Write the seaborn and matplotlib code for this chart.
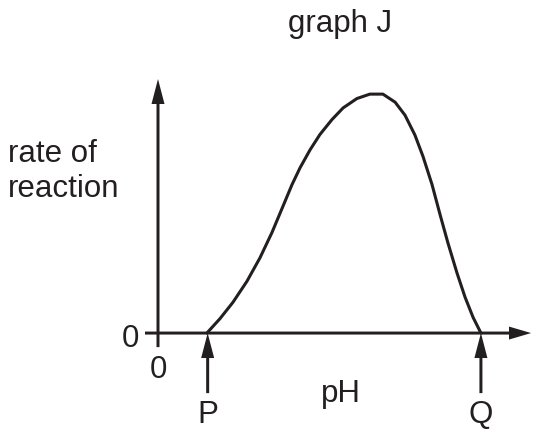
import numpy as np
import pandas as pd
import seaborn as sns
import matplotlib
matplotlib.use("Agg")
import matplotlib.pyplot as plt

# curve (diagram units, origin at the axes corner)
ph = [1.88, 2.38, 2.88, 3.42, 3.92, 4.38, 4.77, 5.15, 5.46, 5.85, 6.23, 6.69, 7.12,
      7.65, 8.15, 8.65, 9.12, 9.50, 9.88, 10.19, 10.54, 10.85, 11.15, 11.50, 11.81,
      12.12, 12.42]
rate = [0, 0.55, 1.18, 1.99, 2.89, 3.86, 4.79, 5.70, 6.35, 7.05, 7.64, 8.21, 8.66,
        9.02, 9.19, 9.19, 8.88, 8.38, 7.62, 6.80, 5.71, 4.55, 3.47, 2.31, 1.38,
        0.60, 0]
p_pos = 1.91
q_pos = 12.42
x_axis_end = 14.35
y_axis_end = 9.77

sns.set_theme(style="white")
plt.rcParams["font.family"] = ["Liberation Sans", "DejaVu Sans"]
ink = "#231f20"
fs = 22.5

fig = plt.figure(figsize=(5.33, 4.29), dpi=100)
ax = fig.add_axes([0, 0, 1, 1])
ax.set_xlim(-6.077, 14.423)
ax.set_ylim(-3.69, 12.81)
ax.axis("off")

df = pd.DataFrame({"pH": ph, "rate": rate})
sns.lineplot(data=df, x="pH", y="rate", sort=False, estimator=None,
             color=ink, lw=2.2, solid_joinstyle="round", solid_capstyle="round", ax=ax)

# axes with arrow heads
ax.arrow(-0.5, 0, x_axis_end + 0.5, 0, width=0.115, head_width=0.5, head_length=0.85,
         length_includes_head=True, color=ink, lw=0)
ax.arrow(0, -0.54, 0, y_axis_end + 0.54, width=0.115, head_width=0.5, head_length=0.96,
         length_includes_head=True, color=ink, lw=0)

# P and Q markers
for xp in (p_pos, q_pos):
    ax.arrow(xp, -2.31, 0, 2.31, width=0.115, head_width=0.5, head_length=0.96,
             length_includes_head=True, color=ink, lw=0)

ax.text(7.0, 11.58, "graph J", ha="center", va="baseline", fontsize=fs, color=ink)
ax.text(-5.77, 5.23, "rate of\nreaction", ha="left", va="baseline", fontsize=fs,
        color=ink, linespacing=1.2)
ax.text(-1.05, -0.54, "0", ha="center", va="baseline", fontsize=fs, color=ink)
ax.text(0, -1.71, "0", ha="center", va="baseline", fontsize=fs, color=ink)
ax.text(7.02, -2.65, "pH", ha="center", va="baseline", fontsize=fs, color=ink)
ax.text(p_pos, -3.45, "P", ha="center", va="baseline", fontsize=fs, color=ink)
ax.text(q_pos, -3.45, "Q", ha="center", va="baseline", fontsize=fs, color=ink)

fig.savefig("out.png", dpi=100)
